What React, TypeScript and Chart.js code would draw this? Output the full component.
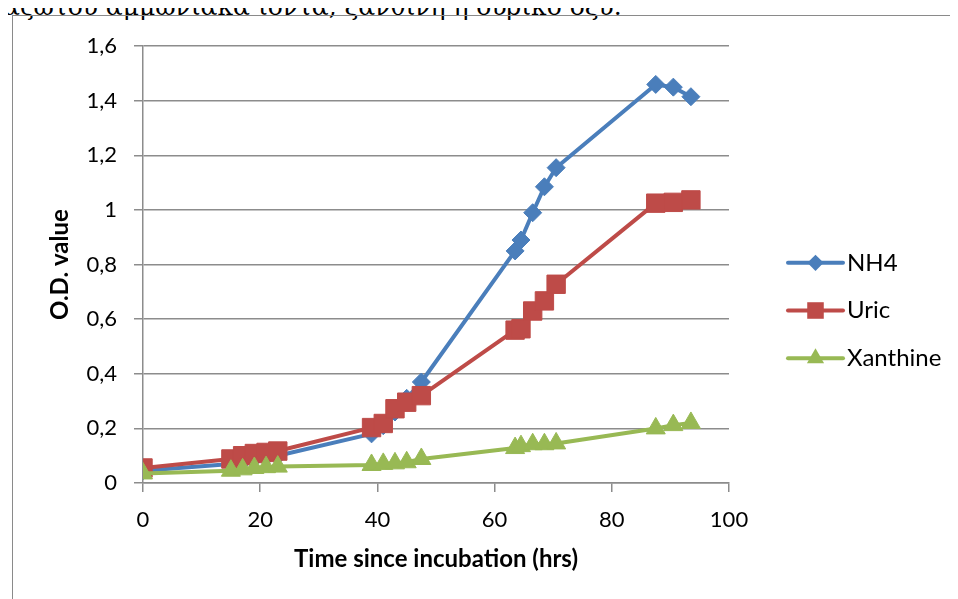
import React, { useEffect, useRef } from "react";
import { Chart, registerables } from "chart.js";

Chart.register(...registerables);

// Optical density readings against incubation time (hours)
const hours = [0, 15, 17, 19, 21, 23, 39, 41, 43, 45, 47.5, 63.5, 64.5, 66.5, 68.5, 70.5, 87.5, 90.5, 93.5];
const nh4 = [0.045, 0.07, 0.08, 0.09, 0.095, 0.1, 0.18, 0.21, 0.26, 0.31, 0.37, 0.85, 0.89, 0.99, 1.085, 1.155, 1.46, 1.45, 1.415];
const uric = [0.055, 0.088, 0.1, 0.108, 0.112, 0.117, 0.203, 0.218, 0.272, 0.296, 0.32, 0.56, 0.565, 0.63, 0.667, 0.728, 1.025, 1.028, 1.037];
const xanthine = [0.035, 0.045, 0.05, 0.055, 0.058, 0.06, 0.066, 0.07, 0.072, 0.076, 0.088, 0.128, 0.135, 0.142, 0.142, 0.145, 0.2, 0.212, 0.22];

const seriesNames = ["NH4", "Uric", "Xanthine"];
const seriesValues = [nh4, uric, xanthine];
const seriesColors = ["#4A7EBB", "#BE4B48", "#98B954"];
const seriesMarkers = ["rectRot", "rect", "triangle"];
const markerRadius = [9, 13, 11];

const xTickValues = [0, 20, 40, 60, 80, 100];
const yTickValues = [0, 0.2, 0.4, 0.6, 0.8, 1, 1.2, 1.4, 1.6];

const xTitle = "Time since incubation (hrs)";
const yTitle = "O.D. value";
const captionText = "αζώτου αμμωνιακά ιόντα, ξανθίνη ή ουρικό οξύ.";

const FONT = "Lato, 'Open Sans', sans-serif";
const GRID = "#8c8c8c";

function formatComma(v: number): string {
  return String(Math.round(v * 10) / 10).replace(".", ",");
}

function drawMarker(ctx: CanvasRenderingContext2D, style: string, x: number, y: number, r: number) {
  ctx.beginPath();
  if (style === "rectRot") {
    ctx.moveTo(x - r, y);
    ctx.lineTo(x, y - r);
    ctx.lineTo(x + r, y);
    ctx.lineTo(x, y + r);
  } else if (style === "rect") {
    const h = Math.SQRT1_2 * r;
    ctx.rect(x - h, y - h, 2 * h, 2 * h);
  } else {
    const a = (2 * Math.PI) / 3;
    ctx.moveTo(x, y - r);
    ctx.lineTo(x + Math.sin(a) * r, y - Math.cos(a) * r);
    ctx.lineTo(x + Math.sin(2 * a) * r, y - Math.cos(2 * a) * r);
  }
  ctx.closePath();
  ctx.fill();
}

// Legend drawn to the right of the plot: line sample with its marker, then the name
const sideLegend = {
  id: "sideLegend",
  afterDraw(chart: any) {
    const ctx: CanvasRenderingContext2D = chart.ctx;
    const area = chart.chartArea;
    const x0 = area.right + 59;
    const len = 55;
    const gap = 47.7;
    const cy = chart.height / 2 + 3;
    ctx.save();
    seriesNames.forEach((name, i) => {
      const y = cy + (i - 1) * gap;
      ctx.strokeStyle = seriesColors[i];
      ctx.fillStyle = seriesColors[i];
      ctx.lineWidth = 4;
      ctx.lineCap = "round";
      ctx.beginPath();
      ctx.moveTo(x0, y);
      ctx.lineTo(x0 + len, y);
      ctx.stroke();
      drawMarker(ctx, seriesMarkers[i], x0 + len / 2, y, markerRadius[i] * 0.9);
      ctx.fillStyle = "#000";
      ctx.font = `24px ${FONT}`;
      ctx.textBaseline = "middle";
      ctx.textAlign = "left";
      ctx.fillText(name, x0 + len + 4, y);
    });
    ctx.restore();
  },
};

export default function App() {
  const canvasRef = useRef<HTMLCanvasElement | null>(null);

  useEffect(() => {
    const canvas = canvasRef.current;
    if (!canvas) return;
    Chart.defaults.color = "#000";
    const chart = new Chart(canvas, {
      type: "line",
      data: {
        datasets: seriesNames.map((name, i) => ({
          label: name,
          data: hours.map((h, j) => ({ x: h, y: seriesValues[i][j] })),
          borderColor: seriesColors[i],
          backgroundColor: seriesColors[i],
          borderWidth: 4,
          borderJoinStyle: "round" as const,
          tension: 0,
          pointStyle: seriesMarkers[i] as any,
          pointRadius: markerRadius[i],
          pointBorderWidth: 1,
          pointBackgroundColor: seriesColors[i],
          pointBorderColor: seriesColors[i],
          order: 3 - i,
        })),
      },
      options: {
        animation: false,
        responsive: false,
        devicePixelRatio: 1,
        layout: { padding: { top: 28, right: 229, bottom: 0, left: 0 } },
        plugins: {
          legend: { display: false },
          tooltip: { enabled: false },
        },
        scales: {
          x: {
            type: "linear",
            min: 0,
            max: 100,
            afterBuildTicks: (s: any) => {
              s.ticks = xTickValues.map((v) => ({ value: v }));
            },
            afterFit: (s: any) => {
              s.height = 116;
            },
            grid: {
              drawOnChartArea: false,
              drawTicks: true,
              tickLength: 9,
              color: GRID,
              lineWidth: 1.5,
            },
            border: { display: true, color: GRID, width: 1.5 },
            ticks: {
              font: { family: FONT, size: 22 },
              padding: 15,
              maxRotation: 0,
              callback: (v: any) => String(v),
            },
            title: {
              display: true,
              text: xTitle,
              font: { family: FONT, size: 24, weight: "bold" },
              padding: { top: 0, bottom: 25 },
            },
          },
          y: {
            type: "linear",
            min: 0,
            max: 1.6,
            afterBuildTicks: (s: any) => {
              s.ticks = yTickValues.map((v) => ({ value: v }));
            },
            afterFit: (s: any) => {
              s.width = 130;
            },
            grid: {
              drawOnChartArea: true,
              drawTicks: true,
              tickLength: 9,
              color: GRID,
              lineWidth: 1.5,
            },
            border: { display: true, color: GRID, width: 1.5 },
            ticks: {
              font: { family: FONT, size: 22 },
              padding: 17,
              callback: (v: any) => formatComma(Number(v)),
            },
            title: {
              display: true,
              text: yTitle,
              font: { family: FONT, size: 24, weight: "bold" },
              padding: { top: 33, bottom: 0 },
            },
          },
        },
      },
      plugins: [sideLegend],
    });
    return () => chart.destroy();
  }, []);

  return (
    <div
      style={{
        position: "relative",
        marginTop: -8,
        marginLeft: -8,
        width: 958,
        height: 599,
        overflow: "hidden",
        background: "#fff",
      }}
    >
      <div
        style={{
          position: "absolute",
          left: 3,
          top: -6.5,
          fontFamily: "'DejaVu Serif', serif",
          fontSize: 25,
          lineHeight: "25px",
          whiteSpace: "nowrap",
          color: "#000",
        }}
      >
        {captionText}
      </div>
      <div
        style={{
          position: "absolute",
          left: 12,
          top: 15,
          width: 1000,
          height: 700,
          border: "1px solid #8a8a8a",
          boxSizing: "border-box",
        }}
      />
      <canvas
        ref={canvasRef}
        width={945}
        height={583}
        style={{ position: "absolute", left: 13, top: 16, width: 945, height: 583, display: "block" }}
      />
    </div>
  );
}
